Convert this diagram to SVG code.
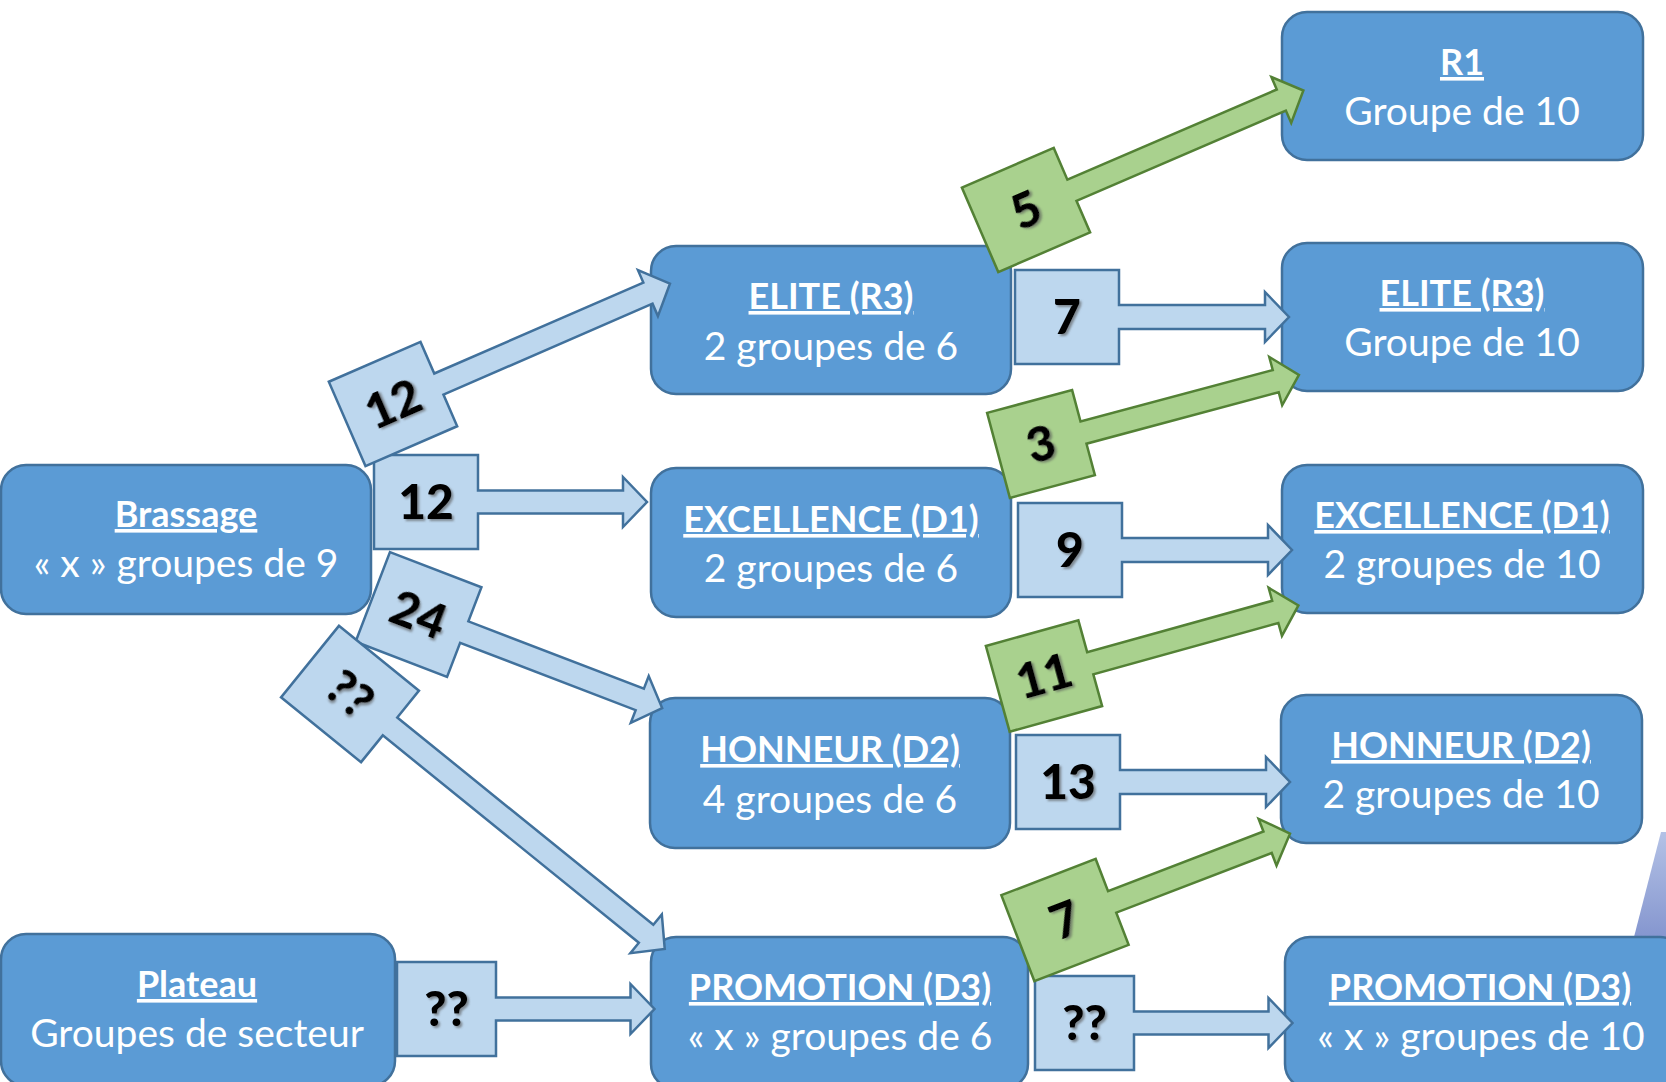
<svg xmlns="http://www.w3.org/2000/svg" width="1666" height="1082" viewBox="0 0 1666 1082">
<defs>
<style>
.node rect{fill:#5B9BD5;stroke:#41719C;stroke-width:2.5}
.ttl{font-family:Lato,"Liberation Sans",sans-serif;font-weight:bold;font-size:36px;fill:#fff;text-anchor:middle;text-decoration:underline;text-decoration-skip-ink:none}
.sub{font-family:Lato,"Liberation Sans",sans-serif;font-size:39px;fill:#fff;text-anchor:middle}
.cb path{fill:#BDD7EE;stroke:#41719C;stroke-width:2.5;stroke-linejoin:miter}
.cg path{fill:#A9D18E;stroke:#538135;stroke-width:2.5;stroke-linejoin:miter}
.lbl{font-family:Lato,"Liberation Sans",sans-serif;font-weight:900;font-size:48px;fill:#000;text-anchor:middle;filter:url(#sh)}
</style>
<filter id="sh" x="-30%" y="-30%" width="160%" height="160%">
<feDropShadow dx="2" dy="2" stdDeviation="1.2" flood-color="#555" flood-opacity="0.6"/>
</filter>
<linearGradient id="wedge" x1="0" y1="0" x2="0" y2="1">
<stop offset="0" stop-color="#b4c2e6"/>
<stop offset="1" stop-color="#8596cf"/>
</linearGradient>
</defs>
<rect width="1666" height="1082" fill="#fff"/>
<polygon points="1661,832 1666,832 1666,937 1634,937" fill="url(#wedge)"/>

<g id="brassage" class="node"><rect x="1" y="465" width="370" height="149" rx="25"/><text class="ttl" x="186" y="527">Brassage</text><text class="sub" x="186" y="577">« x » groupes de 9</text></g>
<g id="plateau" class="node"><rect x="1" y="934" width="394" height="152" rx="25"/><text class="ttl" x="197" y="997">Plateau</text><text class="sub" x="197" y="1047">Groupes de secteur</text></g>

<g id="elite-r3" class="node"><rect x="651" y="246" width="360" height="148" rx="25"/><text class="ttl" x="831" y="309">ELITE (R3)</text><text class="sub" x="831" y="360">2 groupes de 6</text></g>
<g id="excellence-d1" class="node"><rect x="651" y="468" width="360" height="149" rx="25"/><text class="ttl" x="831" y="532">EXCELLENCE (D1)</text><text class="sub" x="831" y="582">2 groupes de 6</text></g>
<g id="honneur-d2" class="node"><rect x="650" y="698" width="360" height="150" rx="25"/><text class="ttl" x="830" y="762">HONNEUR (D2)</text><text class="sub" x="830" y="813">4 groupes de 6</text></g>
<g id="promotion-d3" class="node"><rect x="651" y="937" width="377" height="152" rx="25"/><text class="ttl" x="840" y="1000">PROMOTION (D3)</text><text class="sub" x="840" y="1050">« x » groupes de 6</text></g>

<g id="r1" class="node"><rect x="1282" y="12" width="361" height="148" rx="25"/><text class="ttl" x="1462" y="75">R1</text><text class="sub" x="1462" y="125">Groupe de 10</text></g>
<g id="elite-r3-b" class="node"><rect x="1282" y="243" width="361" height="148" rx="25"/><text class="ttl" x="1462" y="306">ELITE (R3)</text><text class="sub" x="1462" y="356">Groupe de 10</text></g>
<g id="excellence-d1-b" class="node"><rect x="1282" y="465" width="361" height="148" rx="25"/><text class="ttl" x="1462" y="528">EXCELLENCE (D1)</text><text class="sub" x="1462" y="578">2 groupes de 10</text></g>
<g id="honneur-d2-b" class="node"><rect x="1281" y="695" width="361" height="148" rx="25"/><text class="ttl" x="1461" y="758">HONNEUR (D2)</text><text class="sub" x="1461" y="808">2 groupes de 10</text></g>
<g id="promotion-d3-b" class="node"><rect x="1285" y="937" width="400" height="152" rx="25"/><text class="ttl" x="1480" y="1000">PROMOTION (D3)</text><text class="sub" x="1481" y="1050">« x » groupes de 10</text></g>

<g id="connectors">
<g class="cb" transform="translate(426,502)"><path d="M-52,-47H52V-11.5H197V-25L221,0L197,25V11.5H52V47H-52Z"/><text class="lbl" x="0" y="17">12</text></g>
<g class="cb" transform="translate(393,404) rotate(-23.5)"><path d="M-50,-46H50V-11.5H278V-25L302,0L278,25V11.5H50V46H-50Z"/><text class="lbl" x="0" y="17">12</text></g>
<g class="cb" transform="translate(418.5,614.5) rotate(21)"><path d="M-49,-48H49V-11.5H237V-25L261,0L237,25V11.5H49V48H-49Z"/><text class="lbl" x="0" y="17">24</text></g>
<g class="cb" transform="translate(350,694) rotate(39)"><path d="M-51.5,-46H51.5V-11.5H381V-25L405,0L381,25V11.5H51.5V46H-51.5Z"/><text class="lbl" x="0" y="17">??</text></g>
<g class="cb" transform="translate(446.5,1009)"><path d="M-49.5,-47H49.5V-11.5H184V-25L208,0L184,25V11.5H49.5V47H-49.5Z"/><text class="lbl" x="0" y="17">??</text></g>

<g class="cb" transform="translate(1067,317)"><path d="M-52,-47H52V-12H198V-25L222,0L198,25V12H52V47H-52Z"/><text class="lbl" x="0" y="17">7</text></g>
<g class="cb" transform="translate(1070,550)"><path d="M-52,-47H52V-12H198V-25L222,0L198,25V12H52V47H-52Z"/><text class="lbl" x="0" y="17">9</text></g>
<g class="cb" transform="translate(1068,782)"><path d="M-52,-47H52V-12H198V-25L222,0L198,25V12H52V47H-52Z"/><text class="lbl" x="0" y="17">13</text></g>
<g class="cb" transform="translate(1084.5,1023)"><path d="M-49.5,-47H49.5V-11.5H184V-25L208,0L184,25V11.5H49.5V47H-49.5Z"/><text class="lbl" x="0" y="17">??</text></g>

<g class="cg" transform="translate(1026,210) rotate(-23.3)"><path d="M-50,-46H50V-11.5H278V-25L302,0L278,25V11.5H50V46H-50Z"/><text class="lbl" x="0" y="17">5</text></g>
<g class="cg" transform="translate(1041,444) rotate(-15)"><path d="M-44,-44H44V-11.5H243V-25L267,0L243,25V11.5H44V44H-44Z"/><text class="lbl" x="0" y="17">3</text></g>
<g class="cg" transform="translate(1044,676) rotate(-15.5)"><path d="M-48,-44.5H48V-11.5H240V-25L264,0L240,25V11.5H48V44.5H-48Z"/><text class="lbl" x="0" y="17">11</text></g>
<g class="cg" transform="translate(1065,920) rotate(-21)"><path d="M-50.5,-46H50.5V-11.5H217V-25L241,0L217,25V11.5H50.5V46H-50.5Z"/><text class="lbl" x="0" y="17">7</text></g>
</g>
</svg>
